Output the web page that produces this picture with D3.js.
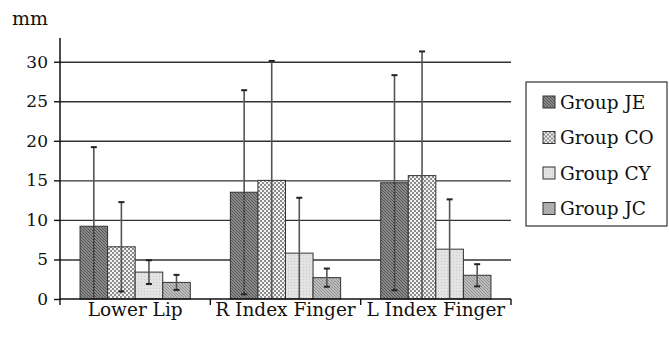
<!DOCTYPE html>
<html>
<head>
<meta charset="utf-8">
<script src="https://cdn.jsdelivr.net/npm/d3@7"></script>
<style>
  body { margin: 0; background: #fff; }
</style>
</head>
<body>
<svg id="chart" width="669" height="340"></svg>
<script>
// Measurement sites and groups
const categories = ["Lower Lip", "R Index Finger", "L Index Finger"];
const groups = ["Group JE", "Group CO", "Group CY", "Group JC"];

// Mean displacement (mm) per site, one array per group
const meanJE = [9.2, 13.5, 14.7];
const meanCO = [6.6, 15.0, 15.6];
const meanCY = [3.4, 5.8, 6.3];
const meanJC = [2.1, 2.7, 3.0];

// Standard deviations (mm)
const sdJE = [10.0, 12.9, 13.6];
const sdCO = [5.65, 15.1, 15.7];
const sdCY = [1.5, 7.0, 6.3];
const sdJC = [0.95, 1.15, 1.4];

const yTicks = [0, 5, 10, 15, 20, 25, 30];
const yUnit = "mm";

const means = [meanJE, meanCO, meanCY, meanJC];
const sds = [sdJE, sdCO, sdCY, sdJC];

const SERIF = "DejaVu Serif";
const svg = d3.select("#chart");
const margin = { left: 60, right: 158, top: 38, bottom: 41 };
const W = 669, H = 340;

const x0 = d3.scaleBand().domain(categories).range([margin.left, W - margin.right]).padding(0);
const x1 = d3.scaleBand().domain(groups).range([0, x0.bandwidth()]).paddingInner(0).paddingOuter(0.727);
const y = d3.scaleLinear().domain([0, 33]).range([H - margin.bottom, margin.top]);

// Fill patterns for each group
const defs = svg.append("defs");
function hatch(id, base, line, size, w) {
  const p = defs.append("pattern").attr("id", id).attr("patternUnits", "userSpaceOnUse")
    .attr("width", size).attr("height", size);
  p.append("rect").attr("width", size).attr("height", size).attr("fill", base);
  p.append("path")
    .attr("d", `M0,0L${size},${size}M${-size/2},${size/2}L${size/2},${size*1.5}M${size/2},${-size/2}L${size*1.5},${size/2}`)
    .attr("stroke", line).attr("stroke-width", w);
}
hatch("pJE", "#8a8a8a", "#555", 3, 1);
hatch("pJC", "#bdbdbd", "#8a8a8a", 3, 0.9);
(function () {
  const p = defs.append("pattern").attr("id", "pCO").attr("patternUnits", "userSpaceOnUse")
    .attr("width", 4).attr("height", 4);
  p.append("rect").attr("width", 4).attr("height", 4).attr("fill", "#f4f4f4");
  p.append("rect").attr("width", 2).attr("height", 2).attr("fill", "#8c8c8c");
  p.append("rect").attr("x", 2).attr("y", 2).attr("width", 2).attr("height", 2).attr("fill", "#8c8c8c");
})();
(function () {
  const p = defs.append("pattern").attr("id", "pCY").attr("patternUnits", "userSpaceOnUse")
    .attr("width", 3).attr("height", 3);
  p.append("rect").attr("width", 3).attr("height", 3).attr("fill", "#e3e3e3");
  p.append("rect").attr("width", 1).attr("height", 1).attr("fill", "#cbcbcb");
})();
const fills = ["url(#pJE)", "url(#pCO)", "url(#pCY)", "url(#pJC)"];

// Horizontal gridlines
const grid = svg.append("g")
  .attr("transform", `translate(${margin.left},0)`)
  .call(d3.axisLeft(y).tickValues(yTicks.filter(v => v > 0)).tickSize(-(W - margin.right - margin.left)).tickFormat(""));
grid.select(".domain").remove();
grid.selectAll("line").attr("stroke", "#333").attr("stroke-width", 1.4);

// Bars
const rows = [];
categories.forEach((c, ci) => groups.forEach((g, gi) => rows.push({ c, g, gi, m: means[gi][ci], s: sds[gi][ci] })));

svg.append("g").selectAll("rect").data(rows).join("rect")
  .attr("x", d => x0(d.c) + x1(d.g))
  .attr("y", d => y(d.m))
  .attr("width", x1.bandwidth())
  .attr("height", d => y(0) - y(d.m))
  .attr("fill", d => fills[d.gi])
  .attr("stroke", "#333").attr("stroke-width", 1);

// Error bars (mean ± SD, clipped at zero)
const eb = svg.append("g").selectAll("g").data(rows).join("g")
  .attr("transform", d => `translate(${x0(d.c) + x1(d.g) + x1.bandwidth() / 2},0)`);
eb.append("line")
  .attr("y1", d => y(d.m + d.s)).attr("y2", d => y(d.m))
  .attr("stroke", "#555").attr("stroke-width", 1.6);
eb.append("line")
  .attr("y1", d => y(d.m)).attr("y2", d => y(Math.max(0, d.m - d.s)))
  .attr("stroke", d => d.gi === 0 ? "#333" : "#555").attr("stroke-width", 1.6)
  .attr("stroke-dasharray", d => d.gi === 0 ? "2,1" : null);
eb.append("line")
  .attr("x1", -3).attr("x2", 3)
  .attr("y1", d => y(d.m + d.s)).attr("y2", d => y(d.m + d.s))
  .attr("stroke", "#222").attr("stroke-width", 2);
eb.filter(d => d.m - d.s > 0).append("line")
  .attr("x1", -3).attr("x2", 3)
  .attr("y1", d => y(d.m - d.s)).attr("y2", d => y(d.m - d.s))
  .attr("stroke", "#222").attr("stroke-width", 2);

// Y axis
const yAxis = svg.append("g")
  .attr("transform", `translate(${margin.left},0)`)
  .call(d3.axisLeft(y).tickValues(yTicks).tickSize(6).tickPadding(6))
  .attr("font-family", SERIF).attr("font-size", 17);
yAxis.select(".domain").attr("d", `M0,${y(0)}V${margin.top}`).attr("stroke", "#111").attr("stroke-width", 1.5);
yAxis.selectAll(".tick line").attr("stroke", "#111").attr("stroke-width", 1.4);
yAxis.selectAll(".tick text").attr("fill", "#111");

// X axis line with ticks at the category boundaries
const xAxis = svg.append("g").attr("font-family", SERIF).attr("font-size", 18.5).attr("fill", "#111");
xAxis.append("line")
  .attr("x1", margin.left).attr("x2", W - margin.right)
  .attr("y1", y(0)).attr("y2", y(0))
  .attr("stroke", "#111").attr("stroke-width", 1.5);
const bounds = categories.map(c => x0(c)).concat([x0.range()[1]]);
xAxis.selectAll("line.tk").data(bounds).join("line").attr("class", "tk")
  .attr("x1", d => d).attr("x2", d => d)
  .attr("y1", y(0)).attr("y2", y(0) + 6)
  .attr("stroke", "#111").attr("stroke-width", 1.4);
xAxis.selectAll("text.lab").data(categories).join("text").attr("class", "lab")
  .attr("x", c => x0(c) + x0.bandwidth() / 2)
  .attr("y", y(0) + 17)
  .attr("text-anchor", "middle").text(c => c);

// Unit label
svg.append("text").attr("x", 12).attr("y", 25)
  .attr("font-family", SERIF).attr("font-size", 19).attr("fill", "#111").text(yUnit);

// Legend
const lg = svg.append("g").attr("transform", "translate(526,82)")
  .attr("font-family", SERIF).attr("font-size", 18.5).attr("fill", "#111");
lg.append("rect").attr("width", 141).attr("height", 144)
  .attr("fill", "#fff").attr("stroke", "#333").attr("stroke-width", 1.2);
const li = lg.selectAll("g.item").data(groups).join("g").attr("class", "item")
  .attr("transform", (d, i) => `translate(17,${20 + i * 35.5})`);
li.append("rect").attr("x", 0).attr("y", -6).attr("width", 12).attr("height", 12)
  .attr("fill", (d, i) => fills[i]).attr("stroke", "#333").attr("stroke-width", 1);
li.append("text").attr("x", 17).attr("y", 6.5).text(d => d);
</script>
</body>
</html>
